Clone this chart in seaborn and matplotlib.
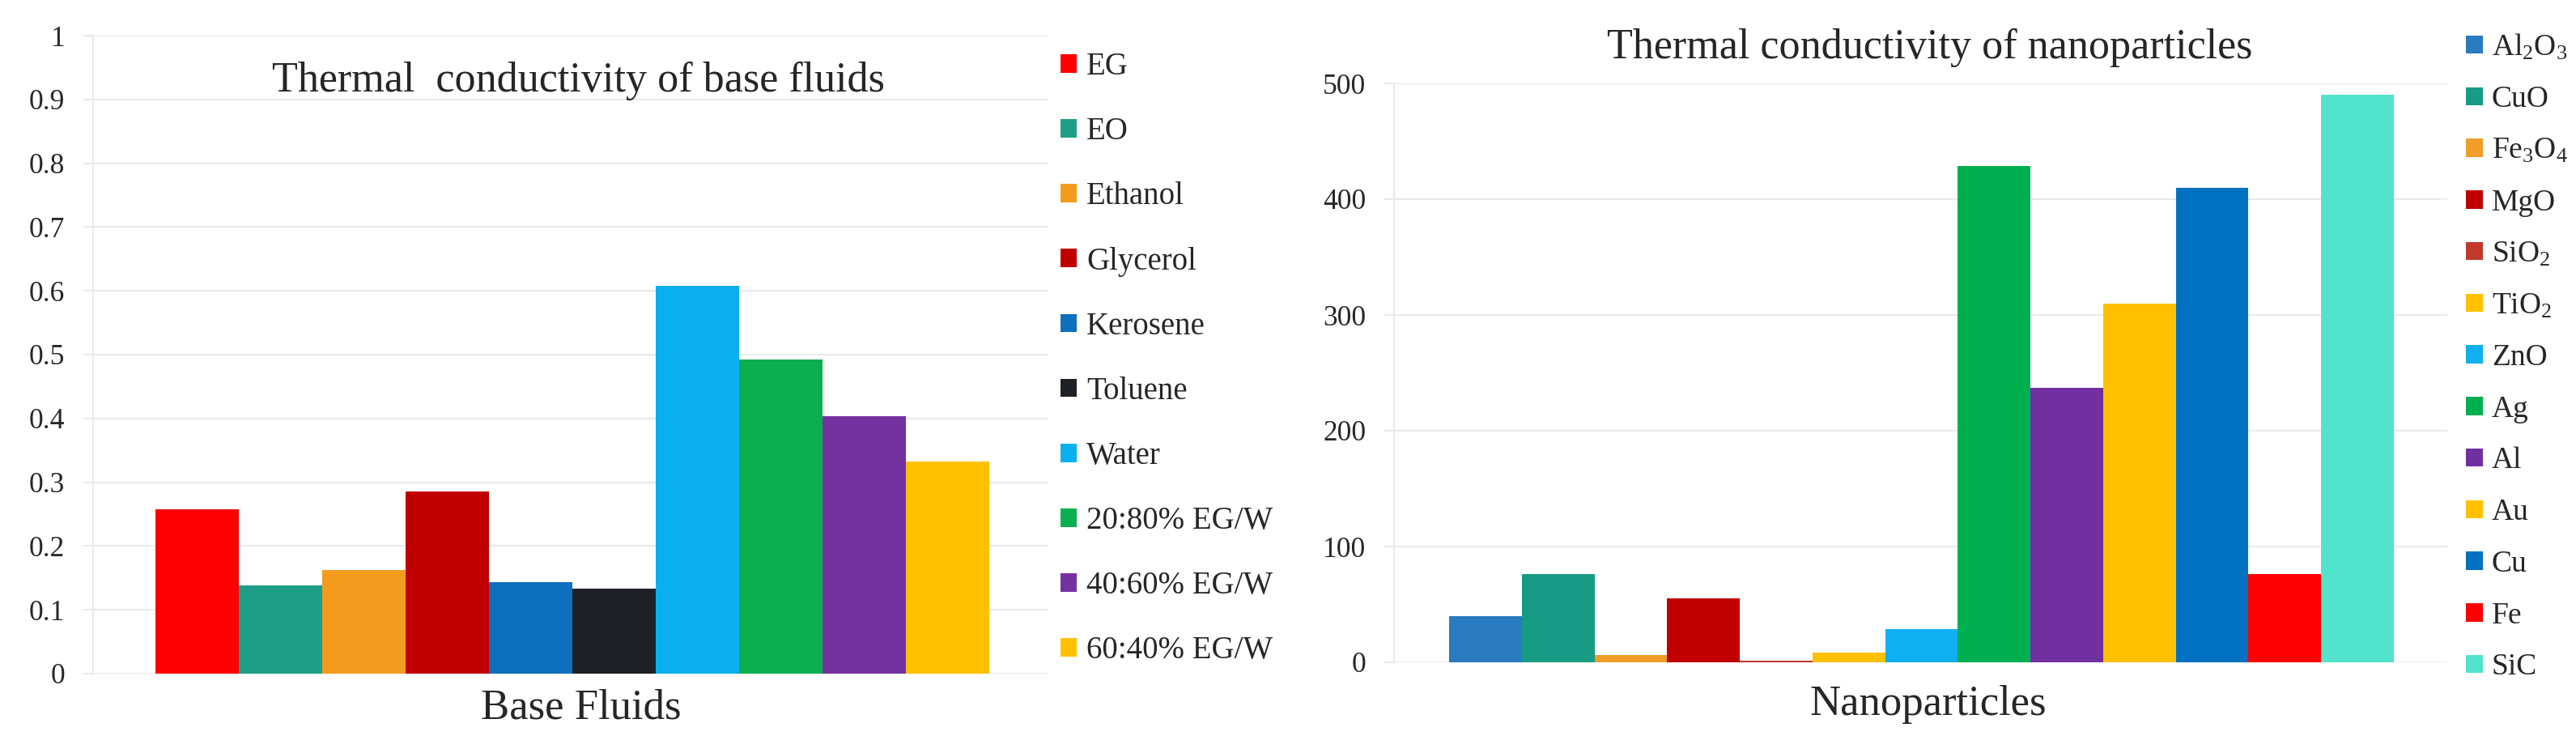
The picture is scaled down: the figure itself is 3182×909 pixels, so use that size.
import matplotlib
matplotlib.use("Agg")
import matplotlib.pyplot as plt
import seaborn as sns
import pandas as pd
from matplotlib.ticker import FuncFormatter, MultipleLocator
from matplotlib.font_manager import FontProperties

# ---------------- data ----------------
fluid_names = ["EG", "EO", "Ethanol", "Glycerol", "Kerosene", "Toluene", "Water",
               "20:80% EG/W", "40:60% EG/W", "60:40% EG/W"]
fluid_values = [0.257, 0.138, 0.162, 0.285, 0.144, 0.133, 0.608, 0.492, 0.404, 0.333]
fluid_colors = ["#FF0000", "#1F9E87", "#F29B1D", "#C00000", "#0F6FBF", "#1E2227",
                "#0AB0EE", "#0BAF50", "#7432A0", "#FFC000"]

np_names = [r"Al$_2$O$_3$", "CuO", r"Fe$_3$O$_4$", "MgO", r"SiO$_2$", r"TiO$_2$", "ZnO",
            "Ag", "Al", "Au", "Cu", "Fe", "SiC"]
np_values = [40, 76, 6, 55, 1.4, 8.4, 29, 429, 237, 310, 410, 76, 490]
np_colors = ["#2A7BBF", "#189B84", "#F09D2A", "#C00000", "#C0392B", "#FFC000", "#10B0F0",
             "#00B050", "#7030A0", "#FFC000", "#0070C0", "#FF0000", "#52E3CC"]

left_title = "Thermal  conductivity of base fluids"
right_title = "Thermal conductivity of nanoparticles"
left_xlabel = "Base Fluids"
right_xlabel = "Nanoparticles"

# ---------------- style ----------------
sns.set_theme(style="white")
SERIF = ["Liberation Serif", "DejaVu Serif"]
plt.rcParams["font.family"] = SERIF
plt.rcParams["mathtext.fontset"] = "custom"
plt.rcParams["mathtext.rm"] = "Liberation Serif"
plt.rcParams["mathtext.it"] = "Liberation Serif"
plt.rcParams["mathtext.default"] = "rm"

W, H = 3182, 909
fig = plt.figure(figsize=(W / 100, H / 100), dpi=100)

GRID = "#EAEAEA"
TXT = "#262626"


def px_axes(x0, x1, ytop, ybot):
    return fig.add_axes([x0 / W, (H - ybot) / H, (x1 - x0) / W, (ybot - ytop) / H])


def style_axes(ax):
    ax.grid(axis="y", color=GRID, linewidth=1.5)
    ax.grid(axis="x", visible=False)
    ax.set_axisbelow(True)
    for s in ["top", "right", "bottom"]:
        ax.spines[s].set_visible(False)
    ax.spines["left"].set_color(GRID)
    ax.spines["left"].set_linewidth(1.5)
    ax.tick_params(axis="y", which="major", length=9, width=1.5, color=GRID,
                   labelsize=25.5, labelcolor=TXT, pad=16, left=True)
    ax.tick_params(axis="x", bottom=False, labelbottom=False)
    for lab in ax.get_yticklabels():
        lab.set_family(SERIF)
    ax.set_ylabel("")
    ax.set_xlabel("")


# ---------------- left chart ----------------
ax1 = px_axes(115, 1295, 44, 832)
df1 = pd.DataFrame({"name": fluid_names, "value": fluid_values})
sns.barplot(data=df1, x="name", y="value", hue="name", palette=fluid_colors,
            hue_order=fluid_names, order=fluid_names, dodge=False, width=1.0,
            saturation=1, linewidth=0, legend=False, ax=ax1)
ax1.set_ylim(0, 1)
ax1.set_xlim(-1.249, 10.21)
ax1.yaxis.set_major_locator(MultipleLocator(0.1))
ax1.yaxis.set_major_formatter(FuncFormatter(lambda v, p: f"{round(v, 1):g}"))
style_axes(ax1)
fig.text(718 / W, (H - 887) / H, left_xlabel, ha="center", va="baseline",
         fontsize=38, color=TXT)
fig.text(714 / W, (H - 113) / H, left_title, ha="center", va="baseline",
         fontsize=37.5, color=TXT)

h1 = [plt.Rectangle((0, 0), 1, 1, facecolor=c, edgecolor="none") for c in fluid_colors]
fig.legend(h1, fluid_names, loc="upper left", bbox_to_anchor=(1310 / W, (H - 64) / H),
           frameon=False, prop=FontProperties(family=SERIF, size=28),
           handlelength=0.52, handleheight=0.52,
           handletextpad=0.3, labelspacing=1.11, borderpad=0, borderaxespad=0,
           labelcolor=TXT)

# ---------------- right chart ----------------
ax2 = px_axes(1722, 3023, 103, 818)
df2 = pd.DataFrame({"name": np_names, "value": np_values})
sns.barplot(data=df2, x="name", y="value", hue="name", palette=np_colors,
            hue_order=np_names, order=np_names, dodge=False, width=1.0,
            saturation=1, linewidth=0, legend=False, ax=ax2)
ax2.set_ylim(0, 500)
ax2.set_xlim(-1.257, 13.235)
ax2.yaxis.set_major_locator(MultipleLocator(100))
ax2.yaxis.set_major_formatter(FuncFormatter(lambda v, p: f"{int(round(v))}"))
style_axes(ax2)
fig.text(2382 / W, (H - 883) / H, right_xlabel, ha="center", va="baseline",
         fontsize=38, color=TXT)
fig.text(2384 / W, (H - 72) / H, right_title, ha="center", va="baseline",
         fontsize=37.5, color=TXT)

h2 = [plt.Rectangle((0, 0), 1, 1, facecolor=c, edgecolor="none") for c in np_colors]
fig.legend(h2, np_names, loc="upper left", bbox_to_anchor=(3046 / W, (H - 40) / H),
           frameon=False, prop=FontProperties(family=SERIF, size=27),
           handlelength=0.55, handleheight=0.55,
           handletextpad=0.3, labelspacing=0.78, borderpad=0, borderaxespad=0,
           labelcolor=TXT)

fig.savefig("out.png", dpi=100, facecolor="white")
